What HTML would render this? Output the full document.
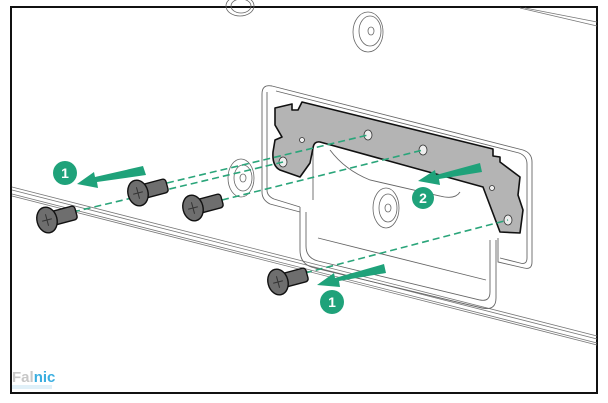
<!DOCTYPE html>
<html><head><meta charset="utf-8"><style>
html,body{margin:0;padding:0;background:#fff;}
svg{display:block;}
</style></head><body>
<svg width="608" height="403" viewBox="0 0 608 403" xmlns="http://www.w3.org/2000/svg">
<rect x="0" y="0" width="608" height="403" fill="#fff"/>
<rect x="11" y="7" width="586" height="386" fill="none" stroke="#111" stroke-width="2"/>
<g stroke="#777" stroke-width="0.8" fill="none">
<line x1="12" y1="187" x2="597" y2="336"/>
<line x1="12" y1="190" x2="597" y2="339"/>
<line x1="12" y1="194" x2="597" y2="343"/>
<line x1="12" y1="196" x2="597" y2="345"/>
<line x1="525" y1="8" x2="597" y2="22"/>
<line x1="520" y1="8" x2="597" y2="26"/>
</g>
<g stroke="#666" stroke-width="0.8" fill="none">
<ellipse cx="368" cy="32" rx="15" ry="20"/><ellipse cx="370" cy="31" rx="11" ry="15"/><ellipse cx="371" cy="31" rx="3" ry="4"/>
<ellipse cx="240" cy="6" rx="14" ry="10"/><ellipse cx="241" cy="6" rx="10" ry="7"/>
<ellipse cx="241" cy="178" rx="13" ry="19"/><ellipse cx="243" cy="178" rx="9" ry="13"/><ellipse cx="243" cy="178" rx="3" ry="4"/>
<ellipse cx="386" cy="208" rx="13" ry="20"/><ellipse cx="388" cy="208" rx="9" ry="14"/><ellipse cx="388" cy="208" rx="3" ry="4"/>
</g>
<g stroke="#666" stroke-width="0.9" fill="none">
<path d="M272 86 L523 150 Q532 153 532 162 L532 262 Q532 270 524 268 L498 262 L498 238"/>
<path d="M276 91 L519 153 Q527 156 527 164 L527 258 Q527 265 520 263 L500 258"/>
<path d="M272 86 Q262 84 262 94 L262 192 Q262 200 270 204 L300 212"/>
<path d="M267 92 L267 190 Q267 196 274 199 L300 207"/>
<path d="M300 207 L300 250 Q300 265 315 268 L482 308 Q496 311 496 298 L496 240"/>
<path d="M306 212 L306 246 Q306 258 318 261 L480 300 Q490 302 490 292 L490 240"/>
<path d="M318 238 L486 280"/>
<path d="M313 150 L313 200"/>
<path d="M330 150 Q345 170 370 180 L440 196 Q455 200 460 192"/>
</g>
<path d="M275 108 L292 104 L292 110 L298 110 L302 102 L493 149 L493 156 L500 157 L500 162 L520 177 L518 195 L523 210 L520 233 L500 232 L483 187 L320 142 Q314 141 313 148 L310 163 L300 177 L280 170 Q272 166 273 152 L275 140 L282 137 L275 125 Z" fill="#b4b4b4" stroke="#111" stroke-width="1.6" stroke-linejoin="round"/>
<g fill="#eee" stroke="#333" stroke-width="0.8">
<ellipse cx="368" cy="135" rx="4" ry="5"/><ellipse cx="423" cy="150" rx="4" ry="5"/><ellipse cx="508" cy="220" rx="4" ry="5"/>
<ellipse cx="283" cy="162" rx="4" ry="5"/><circle cx="302" cy="140" r="2.5"/><circle cx="492" cy="188" r="2.5"/>
</g>
<g stroke="#2aa57a" stroke-width="1.6" stroke-dasharray="7,4" fill="none">
<line x1="73" y1="212" x2="283" y2="162"/>
<line x1="167" y1="183" x2="368" y2="135"/>
<line x1="222" y1="200" x2="423" y2="150"/>
<line x1="305" y1="273" x2="508" y2="220"/>
</g>
<g fill="#6e6e6e" stroke="#111" stroke-width="1.4">
<g transform="translate(47,220) rotate(-15)"><rect x="4" y="-7" width="26" height="14" rx="3"/><ellipse cx="0" cy="0" rx="10" ry="13"/><path d="M-5 0 H5 M0 -6 V6" stroke="#333" stroke-width="1"/></g>
<g transform="translate(138,193) rotate(-15)"><rect x="4" y="-7" width="26" height="14" rx="3"/><ellipse cx="0" cy="0" rx="10" ry="13"/><path d="M-5 0 H5 M0 -6 V6" stroke="#333" stroke-width="1"/></g>
<g transform="translate(193,208) rotate(-15)"><rect x="4" y="-7" width="26" height="14" rx="3"/><ellipse cx="0" cy="0" rx="10" ry="13"/><path d="M-5 0 H5 M0 -6 V6" stroke="#333" stroke-width="1"/></g>
<g transform="translate(278,282) rotate(-15)"><rect x="4" y="-7" width="26" height="14" rx="3"/><ellipse cx="0" cy="0" rx="10" ry="13"/><path d="M-5 0 H5 M0 -6 V6" stroke="#333" stroke-width="1"/></g>
</g>
<g fill="#1fa27a">
<polygon points="143,166 146,175 97,182 98,188 77,184 94,172 95,177"/>
<polygon points="480,163 482,172 439,179 440,185 418,181 435,170 436,175"/>
<polygon points="384,264 386,273 339,281 340,287 317,285 334,273 335,278"/>
<circle cx="65" cy="173" r="12"/><circle cx="332" cy="302" r="12"/><circle cx="423" cy="198" r="11"/>
</g>
<g fill="#fff" font-family="Liberation Sans, sans-serif" font-weight="bold" font-size="14" text-anchor="middle">
<text x="65" y="178">1</text><text x="332" y="307">1</text><text x="423" y="203">2</text>
</g>
<text x="12" y="382" font-family="Liberation Sans, sans-serif" font-size="15" font-weight="bold" fill="#c8c8c8">Fal<tspan fill="#3aaee0">nic</tspan></text>
<rect x="12" y="385" width="40" height="4" fill="#e0f0f8"/>
</svg>
</body></html>
